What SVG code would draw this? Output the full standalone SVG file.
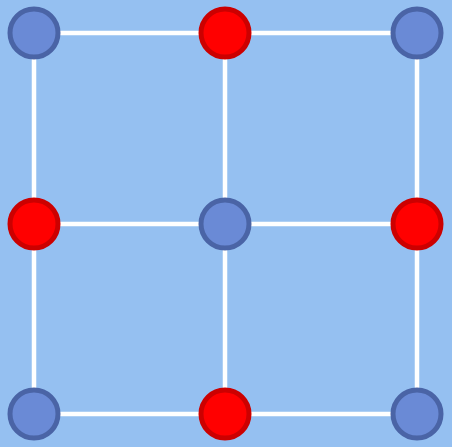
<svg xmlns="http://www.w3.org/2000/svg" width="452" height="447" viewBox="0 0 452 447">
<style>
.e{stroke:#ffffff;stroke-width:4.5;fill:none}
.b{fill:#6a8ad6;stroke:#4a64a6;stroke-width:5}
.r{fill:#ff0000;stroke:#cc0000;stroke-width:5}
</style>
<rect width="452" height="447" fill="#95c0f1"/>
<g id="edges">
<line class="e" x1="34" y1="33" x2="417" y2="33"/>
<line class="e" x1="34" y1="224" x2="417" y2="224"/>
<line class="e" x1="34" y1="414" x2="417" y2="414"/>
<line class="e" x1="34" y1="33" x2="34" y2="414"/>
<line class="e" x1="225" y1="33" x2="225" y2="414"/>
<line class="e" x1="417" y1="33" x2="417" y2="414"/>
</g>
<g id="n00"><circle class="b" cx="34" cy="33" r="24"/></g>
<g id="n10"><circle class="r" cx="225" cy="33" r="24"/></g>
<g id="n20"><circle class="b" cx="417" cy="33" r="24"/></g>
<g id="n01"><circle class="r" cx="34" cy="224" r="24"/></g>
<g id="n11"><circle class="b" cx="225" cy="224" r="24"/></g>
<g id="n21"><circle class="r" cx="417" cy="224" r="24"/></g>
<g id="n02"><circle class="b" cx="34" cy="414" r="24"/></g>
<g id="n12"><circle class="r" cx="225" cy="414" r="24"/></g>
<g id="n22"><circle class="b" cx="417" cy="414" r="24"/></g>
</svg>
